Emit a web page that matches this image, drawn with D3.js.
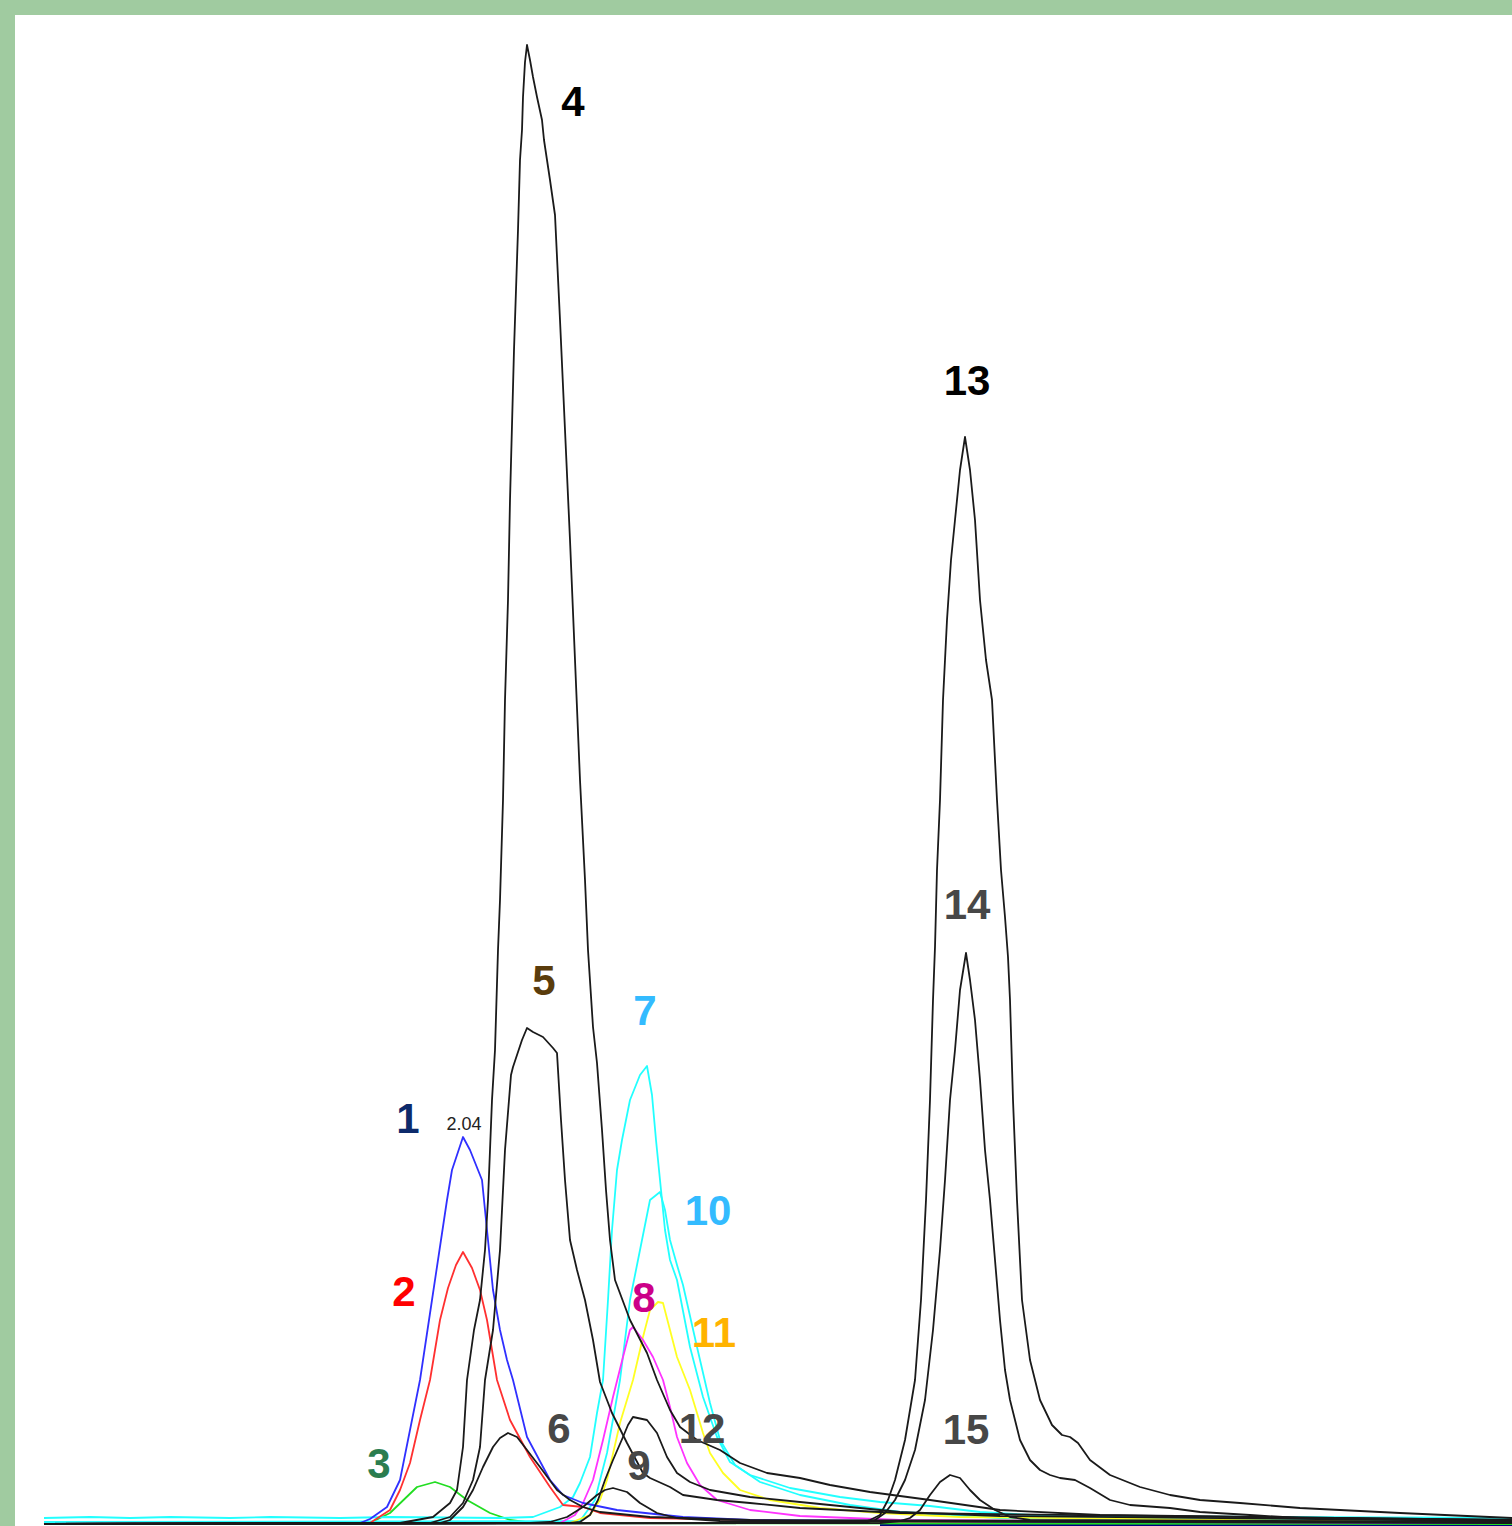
<!DOCTYPE html>
<html>
<head>
<meta charset="utf-8">
<script src="https://cdn.jsdelivr.net/npm/d3@7"></script>
<style>
  html, body { margin: 0; padding: 0; background: #a0cba0; }
  svg { display: block; }
</style>
</head>
<body>
<div id="chart"></div>
<script>
// Chromatogram overlay — one trace per detected compound.
// x: scan number, y: detector response (mV)

const W = 1512, H = 1526;
const FRAME = { top: 15, left: 15 };
const PLOT = { x0: 44, x1: 1512, y0: 1524, y1: 24 };

const SCAN_DOMAIN = [0, 1468];
const MV_DOMAIN = [0, 750];

// ─── Trace data [scan, mV] ───────────────────────────────────

const trace1 = [[0,0],[316,0.5],[326,2.5],[343,8.5],[356,22],[366,47],[376,72],[388,112],[397,142],[403,162],[408,177],[419,193.5],[426,187],[438,172],[443,147],[449,117],[456,97],[463,82],[469,72],[483,43.5],[506,22],[519,14.5],[539,10.5],[573,7],[639,3.5],[706,2],[1056,1],[1468,0.5]];
const trace2 = [[0,0],[326,0.5],[346,7],[356,17],[366,30.5],[376,52],[386,72],[396,102],[404,118],[412,129.5],[419,136],[428,128],[436,117],[443,102],[448,87],[453,72],[466,52],[486,33.5],[506,18.5],[519,9.5],[539,8.5],[556,5.5],[606,3],[756,1.5],[1468,0.5]];
const trace3 = [[0,0],[326,0.5],[346,5.5],[373,18.5],[391,21],[406,18.5],[423,12],[446,5.5],[466,2],[489,0.5],[1468,0]];
const trace4 = [[0,0],[356,0.5],[389,3.5],[406,10.5],[413,17],[419,38.5],[423,72],[430,97],[436,112],[441,137],[444,162],[448,212],[451,237],[454,287],[456,312],[459,362],[461,412],[464,462],[466,512],[470,587],[474,647],[476,682],[478,697],[479,713.5],[481,731],[483,739.5],[486,732],[489,723.5],[493,713.5],[498,702],[500,692],[506,672],[511,654.5],[516,602],[521,547],[526,492],[531,432],[536,372],[541,322],[544,287],[549,248.5],[553,230.5],[558,197],[562,167],[566,142],[571,122],[586,102],[603,85.5],[613,72],[626,57],[636,48.5],[653,42],[676,37],[696,30.5],[723,25.5],[756,23],[786,19.5],[826,16],[886,12],[956,7],[1056,4.5],[1468,2]];
const trace5 = [[0,0],[386,0.5],[406,3.5],[419,10.5],[429,22],[436,38.5],[441,72],[449,97],[456,137],[461,187],[467,224.5],[469,228.5],[478,242],[483,248],[489,246],[499,243.5],[509,238],[513,235.5],[514,227],[517,202],[521,172],[526,142],[533,127],[541,112],[549,92],[556,71],[568,55.5],[583,40.5],[599,25.5],[606,23],[626,18.5],[639,14.5],[673,12],[706,10.5],[756,8],[856,5.5],[1468,2]];
const trace6 = [[0,0],[396,0.5],[406,2],[419,8.5],[429,17],[439,28.5],[449,38.5],[456,43],[464,45.5],[473,43.5],[483,37],[496,28.5],[513,17],[526,12],[539,8.5],[556,6],[606,3.5],[706,2],[1468,1]];
const trace7 = [[0,3],[46,3.5],[86,3],[126,3.5],[186,3],[226,3.5],[296,3],[346,3.5],[456,3],[489,3.5],[516,8.5],[529,13.5],[536,20.5],[546,33.5],[553,55.5],[559,72],[564,112],[568,147],[573,177],[578,192],[586,212],[596,224.5],[603,229],[608,214.5],[612,192],[616,172],[621,147],[626,132],[633,122],[646,88.5],[659,63.5],[673,43.5],[686,31],[706,24.5],[746,18],[796,13.5],[836,11],[886,9],[936,6],[1006,4],[1468,3]];
const trace8 = [[0,0],[516,0.5],[531,4.5],[539,10.5],[549,22],[559,42],[569,63.5],[579,83.5],[586,97],[589,98.5],[599,92],[609,83.5],[619,72],[626,58.5],[633,43.5],[643,30.5],[656,19.5],[673,12],[706,7],[756,4],[856,2],[1468,0.5]];
const trace9 = [[0,0],[486,0.5],[506,1],[523,3.5],[539,8.5],[553,14.5],[561,17],[569,18],[583,16],[596,10.5],[613,5.5],[633,3],[676,1.5],[1468,0.5]];
const trace10 = [[0,1],[536,1.5],[551,12],[556,22],[563,35.5],[576,72],[586,112],[594,132],[601,149.5],[606,162],[616,166],[621,157],[626,142],[633,129.5],[639,119.5],[653,88.5],[666,60.5],[676,42],[691,29.5],[716,21],[756,14.5],[806,9.5],[856,6],[956,3],[1468,1.5]];
const trace11 = [[0,0],[526,0.5],[546,4.5],[556,12],[563,22],[576,50.5],[589,72],[599,93.5],[606,107],[614,111],[619,110.5],[626,97],[633,83.5],[646,67],[653,55.5],[659,45.5],[666,35.5],[679,25.5],[696,17],[726,12],[776,8],[836,5.5],[916,3.5],[1468,0.5]];
const trace12 = [[0,0],[526,0.5],[536,1],[546,4.5],[554,12],[561,22],[569,32],[579,43.5],[584,49.5],[589,53.5],[603,52],[613,45.5],[623,33.5],[633,25.5],[646,21],[666,17],[706,13.5],[756,11],[806,8.5],[856,6],[956,4],[1468,1.5]];
const trace13 = [[0,0],[816,0.5],[826,2],[836,4.5],[844,12],[851,22],[861,42],[871,72],[877,112],[882,162],[886,212],[889,262],[891,288.5],[893,327],[896,362],[899,412],[903,452],[907,482],[911,502],[916,527],[921,543.5],[926,527],[931,502],[936,462],[942,432],[948,412],[953,362],[957,327],[961,303.5],[964,283.5],[966,262],[969,212],[973,162],[978,112],[986,82],[996,62],[1008,49.5],[1018,44.5],[1026,43.5],[1034,40.5],[1046,32],[1066,24.5],[1096,18.5],[1126,14.5],[1156,12],[1196,10.5],[1256,8],[1356,5.5],[1468,3]];
const trace14 = [[0,0],[821,0.5],[831,2],[841,5.5],[851,12],[861,22],[871,37],[881,62],[889,97],[896,137],[901,172],[906,212],[911,237],[916,267],[922,285.5],[926,272],[931,252],[936,222],[941,187],[946,162],[951,132],[956,102],[961,77],[966,62],[976,42],[986,32],[996,27],[1006,24.5],[1016,23],[1031,22],[1046,18],[1066,12],[1086,9.5],[1126,8],[1156,6],[1206,4.5],[1256,3],[1468,1.5]];
const trace15 = [[0,0],[836,0.5],[856,1.5],[866,3],[876,7],[886,14.5],[896,21],[906,24.5],[916,23],[926,17],[936,12],[951,7],[966,3.5],[986,2],[1468,1]];
const baselineNavy = [[836,-0.5],[1468,-0.5]];

// draw order + colour for each trace
const traces = [
  { id: 'base', data: baselineNavy, color: '#000080' },
  { id: '3',  data: trace3,  color: '#22dd22' },
  { id: '7',  data: trace7,  color: '#22ffff' },
  { id: '10', data: trace10, color: '#22ffff' },
  { id: '11', data: trace11, color: '#ffff22' },
  { id: '8',  data: trace8,  color: '#ff33ff' },
  { id: '2',  data: trace2,  color: '#ff3030' },
  { id: '1',  data: trace1,  color: '#3030ff' },
  { id: '4',  data: trace4,  color: '#1a1a1a' },
  { id: '5',  data: trace5,  color: '#1a1a1a' },
  { id: '6',  data: trace6,  color: '#1a1a1a' },
  { id: '9',  data: trace9,  color: '#1a1a1a' },
  { id: '12', data: trace12, color: '#1a1a1a' },
  { id: '13', data: trace13, color: '#1a1a1a' },
  { id: '14', data: trace14, color: '#1a1a1a' },
  { id: '15', data: trace15, color: '#1a1a1a' },
];

// ─── Peak labels [text, scan, mV, colour] ────────────────────

const labelText  = ['1','2','3','4','5','6','7','8','9','10','11','12','13','14','15'];
const labelScan  = [364, 360, 335, 529, 500, 515, 601, 600, 595, 664, 670, 658, 923, 923, 922];
const labelMV    = [195.5, 109, 23, 704, 264.5, 40.5, 249.5, 106, 22, 149.5, 88.5, 40.5, 564.5, 302.5, 40];
const labelColor = ['#0d2a6b','#ff0000','#2b7d4f','#000000','#5a3c0c','#474747','#33bbff','#cc0088','#474747','#33bbff','#ffb300','#474747','#000000','#474747','#474747'];

// retention time annotation on peak 1
const rtText = '2.04';
const rtScan = 420, rtMV = 197;

// ─── Scales ──────────────────────────────────────────────────

const x = d3.scaleLinear().domain(SCAN_DOMAIN).range([PLOT.x0, PLOT.x1]);
const y = d3.scaleLinear().domain(MV_DOMAIN).range([PLOT.y0, PLOT.y1]);

const svg = d3.select('#chart').append('svg')
    .attr('width', W)
    .attr('height', H);

// green frame, white canvas
svg.append('rect').attr('width', W).attr('height', H).attr('fill', '#a0cba0');
svg.append('rect')
    .attr('x', FRAME.left).attr('y', FRAME.top)
    .attr('width', W - FRAME.left).attr('height', H - FRAME.top)
    .attr('fill', '#ffffff');

svg.append('clipPath').attr('id', 'clip')
  .append('rect')
    .attr('x', FRAME.left).attr('y', FRAME.top)
    .attr('width', W - FRAME.left).attr('height', H - FRAME.top);

const line = d3.line()
    .x(d => x(d[0]))
    .y(d => y(d[1]));

svg.append('g')
    .attr('clip-path', 'url(#clip)')
  .selectAll('path')
  .data(traces)
  .join('path')
    .attr('d', d => line(d.data))
    .attr('fill', 'none')
    .attr('stroke', d => d.color)
    .attr('stroke-width', 1.8)
    .attr('stroke-linejoin', 'round');

// ─── Labels ──────────────────────────────────────────────────

svg.append('g')
  .selectAll('text')
  .data(labelText)
  .join('text')
    .attr('x', (d, i) => x(labelScan[i]))
    .attr('y', (d, i) => y(labelMV[i]))
    .attr('text-anchor', 'middle')
    .attr('font-family', 'Liberation Sans, Arial, sans-serif')
    .attr('font-weight', 'bold')
    .attr('font-size', 42)
    .attr('fill', (d, i) => labelColor[i])
    .text(d => d);

svg.append('text')
    .attr('x', x(rtScan))
    .attr('y', y(rtMV))
    .attr('text-anchor', 'middle')
    .attr('font-family', 'Liberation Sans, Arial, sans-serif')
    .attr('font-size', 18)
    .attr('fill', '#222')
    .text(rtText);
</script>
</body>
</html>
